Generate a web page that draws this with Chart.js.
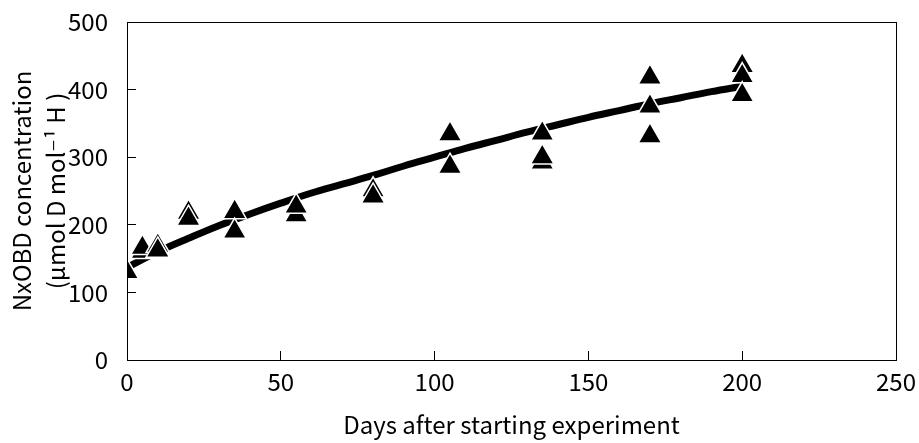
<!DOCTYPE html>
<html>
<head>
<meta charset="utf-8">
<script src="https://cdn.jsdelivr.net/npm/chart.js@4.4.0/dist/chart.umd.min.js"></script>
<style>
  html, body { margin: 0; padding: 0; background: #fff; }
  #wrap { width: 919px; height: 443px; }
</style>
</head>
<body>
<div id="wrap"><canvas id="myChart" width="919" height="443"></canvas></div>
<script>
// measured points (days, concentration)
const diasPuntos = [0, 5, 5, 10, 10, 20, 20, 35, 35, 55, 55, 80, 80, 105, 105, 135, 135, 135, 170, 170, 170, 200, 200, 200];
const valoresPuntos = [130, 160, 166, 169, 162, 218, 209, 219, 190, 214, 227, 251, 242, 334, 286, 292, 300, 335, 418, 375, 331, 435, 420, 392];

// fitted curve
const diasCurva = [0, 10, 20, 30, 40, 50, 60, 70, 80, 90, 100, 110, 120, 130, 140, 150, 160, 170, 180, 190, 200];
const valoresCurva = [137, 160, 180, 199, 216, 232, 247, 260, 273, 287, 300, 313, 325, 337, 348, 359, 369, 379, 388, 397, 405];

const ticksX = [0, 50, 100, 150, 200, 250];
const ticksY = [0, 100, 200, 300, 400, 500];

const tituloX = "Days after starting experiment";
const tituloY = ["NxOBD concentration", "(µmol D mol⁻¹ H )"];

const fuente = "'Noto Sans CJK JP', 'DejaVu Sans', sans-serif";

// box around the plot area
const marcoPlugin = {
  id: "marco",
  afterDraw(chart) {
    const { ctx, chartArea } = chart;
    ctx.save();
    ctx.strokeStyle = "#000";
    ctx.lineWidth = 1;
    ctx.strokeRect(chartArea.left + 0.5, chartArea.top + 0.5, chartArea.right - chartArea.left, chartArea.bottom - chartArea.top);
    ctx.restore();
  },
};

const ctx = document.getElementById("myChart").getContext("2d");
const myChart = new Chart(ctx, {
  type: "scatter",
  data: {
    datasets: [
      {
        label: "puntos",
        data: diasPuntos.map((d, i) => ({ x: d, y: valoresPuntos[i] })),
        pointStyle: "triangle",
        pointRadius: 13.5,
        pointHoverRadius: 13.5,
        backgroundColor: "#000",
        borderColor: "#fff",
        borderWidth: 1.5,
        showLine: false,
      },
      {
        label: "curva",
        data: diasCurva.map((d, i) => ({ x: d, y: valoresCurva[i] })),
        showLine: true,
        borderColor: "#000",
        borderWidth: 7,
        pointRadius: 0,
        tension: 0.4,
        fill: false,
      },
    ],
  },
  options: {
    responsive: false,
    animation: false,
    layout: { padding: { top: 22, right: 23, left: 0, bottom: 0 } },
    plugins: {
      legend: { display: false },
      tooltip: { enabled: false },
    },
    scales: {
      x: {
        type: "linear",
        min: 0,
        max: 250,
        afterBuildTicks: (scale) => {
          scale.ticks = ticksX.map((v) => ({ value: v }));
        },
        afterFit: (scale) => {
          scale.height = 83;
          scale.paddingLeft = 0;
          scale.paddingRight = 0;
        },
        grid: { drawOnChartArea: false, tickLength: -9, color: "#000", tickColor: "#000" },
        border: { color: "#000", width: 1 },
        ticks: {
          color: "#000",
          padding: 16,
          maxRotation: 0,
          font: { family: fuente, size: 24 },
        },
        title: {
          display: true,
          text: tituloX,
          color: "#000",
          padding: { top: 0, bottom: 4 },
          font: { family: fuente, size: 24 },
        },
      },
      y: {
        type: "linear",
        min: 0,
        max: 500,
        afterBuildTicks: (scale) => {
          scale.ticks = ticksY.map((v) => ({ value: v }));
        },
        afterFit: (scale) => {
          scale.width = 127;
          scale.paddingTop = 0;
          scale.paddingBottom = 0;
        },
        grid: { drawOnChartArea: false, tickLength: -9, color: "#000", tickColor: "#000" },
        border: { color: "#000", width: 1 },
        ticks: {
          color: "#000",
          padding: 28,
          font: { family: fuente, size: 24 },
        },
        title: {
          display: true,
          text: tituloY,
          color: "#000",
          padding: { top: 5, bottom: 0 },
          font: { family: fuente, size: 24, lineHeight: 1.42 },
        },
      },
    },
  },
  plugins: [marcoPlugin],
});
</script>
</body>
</html>
